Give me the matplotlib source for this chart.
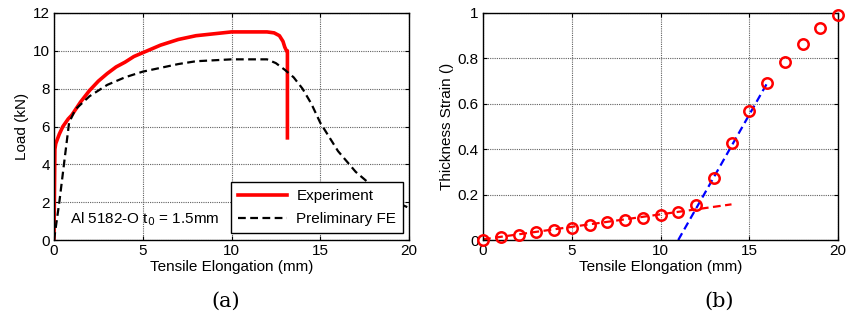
import matplotlib
matplotlib.use("Agg")
import matplotlib.pyplot as plt

plt.rcParams['font.family'] = ['Liberation Sans', 'DejaVu Sans']

# ---- Panel (a) data ----
exp_x = [0, 0.02, 0.05, 0.1, 0.3, 0.5, 0.8, 1.0, 1.5, 2, 2.5, 3, 3.5, 4, 4.5, 5, 6, 7, 8, 9, 10,
         11, 12, 12.4, 12.7, 12.9, 13.0, 13.1, 13.15, 13.15]
exp_y = [0, 2.0, 4.8, 5.1, 5.6, 6.0, 6.4, 6.6, 7.3, 7.9, 8.4, 8.8, 9.15, 9.4, 9.7, 9.9, 10.3, 10.6,
         10.8, 10.9, 11.0, 11.0, 11.0, 10.95, 10.8, 10.5, 10.2, 10.0, 10.0, 5.4]
fe_x = [0, 0.3, 0.6, 0.85, 1.2, 2, 3, 4, 5, 6, 7, 8, 9, 10, 11, 12, 12.5, 13, 13.5, 14, 14.5, 15,
        16, 17, 18, 19, 20]
fe_y = [0, 2.0, 4.3, 6.2, 6.9, 7.6, 8.2, 8.6, 8.9, 9.1, 9.3, 9.45, 9.5, 9.55, 9.55, 9.55, 9.35,
        9.0, 8.6, 8.0, 7.2, 6.2, 4.7, 3.6, 2.8, 2.1, 1.7]

# ---- Panel (b) data ----
elong = [0, 1, 2, 3, 4, 5, 6, 7, 8, 9, 10, 11, 12, 13, 14, 15, 16, 17, 18, 19, 20]
thick = [0, 0.012, 0.022, 0.034, 0.044, 0.055, 0.066, 0.078, 0.088, 0.099, 0.11, 0.124, 0.155,
         0.275, 0.426, 0.57, 0.69, 0.785, 0.862, 0.933, 0.993]
fit1_x = [0, 14]
fit1_y = [0.003, 0.157]
fit2_x = [11, 16]
fit2_y = [0.0, 0.69]

fig = plt.figure(figsize=(8.49, 3.2), dpi=100)
W, H = 849, 320
axA = fig.add_axes([54 / W, 80 / H, 355 / W, 227 / H])
axB = fig.add_axes([483 / W, 80 / H, 355 / W, 227 / H])

grid_kw = dict(color='#606060', linestyle=(0, (1, 1)), linewidth=0.8)
FS = 11

# Panel (a)
axA.plot(exp_x, exp_y, color='red', linewidth=2.6, label='Experiment', solid_joinstyle='round')
axA.plot(fe_x, fe_y, color='black', linestyle=(0, (3.5, 2)), linewidth=1.6, label='Preliminary FE')
axA.set_xlim(0, 20)
axA.set_ylim(0, 12)
axA.set_xticks([0, 5, 10, 15, 20])
axA.set_yticks([0, 2, 4, 6, 8, 10, 12])
axA.grid(True, **grid_kw)
axA.set_xlabel('Tensile Elongation (mm)', fontsize=FS, labelpad=1)
axA.set_ylabel('Load (kN)', fontsize=FS, labelpad=3)
axA.text(0.9, 1.1, 'Al 5182-O t$_0$ = 1.5mm', fontsize=FS, va='center', ha='left')
leg = axA.legend(loc='lower right', bbox_to_anchor=(1.005, -0.003), fontsize=FS, frameon=True,
                 fancybox=False, edgecolor='black', framealpha=1, handlelength=3.2,
                 borderpad=0.45, labelspacing=0.6, handletextpad=0.6)
leg.get_frame().set_linewidth(1.0)
axA.text(0.485, -0.272, '(a)', transform=axA.transAxes, ha='center', va='center',
         fontsize=15, family='DejaVu Serif')

# Panel (b)
axB.plot(fit1_x, fit1_y, color='red', linestyle=(0, (3.5, 2)), linewidth=1.6)
axB.plot(fit2_x, fit2_y, color='blue', linestyle=(0, (3.5, 2)), linewidth=1.6)
axB.plot(elong, thick, linestyle='none', marker='o', markersize=7.5, markerfacecolor='none',
         markeredgecolor='red', markeredgewidth=1.8, clip_on=False, zorder=5)
axB.set_xlim(0, 20)
axB.set_ylim(0, 1)
axB.set_xticks([0, 5, 10, 15, 20])
axB.set_yticks([0, 0.2, 0.4, 0.6, 0.8, 1])
axB.set_yticklabels(['0', '0.2', '0.4', '0.6', '0.8', '1'])
axB.grid(True, **grid_kw)
axB.set_xlabel('Tensile Elongation (mm)', fontsize=FS, labelpad=1)
axB.set_ylabel('Thickness Strain ()', fontsize=FS, labelpad=3)
axB.text(0.665, -0.272, '(b)', transform=axB.transAxes, ha='center', va='center',
         fontsize=15, family='DejaVu Serif')

for ax in (axA, axB):
    ax.tick_params(direction='in', length=3, labelsize=FS, top=True, right=True, pad=3)
    for s in ax.spines.values():
        s.set_linewidth(1.0)
    ax.set_axisbelow(True)

fig.savefig('out.png', dpi=100)
